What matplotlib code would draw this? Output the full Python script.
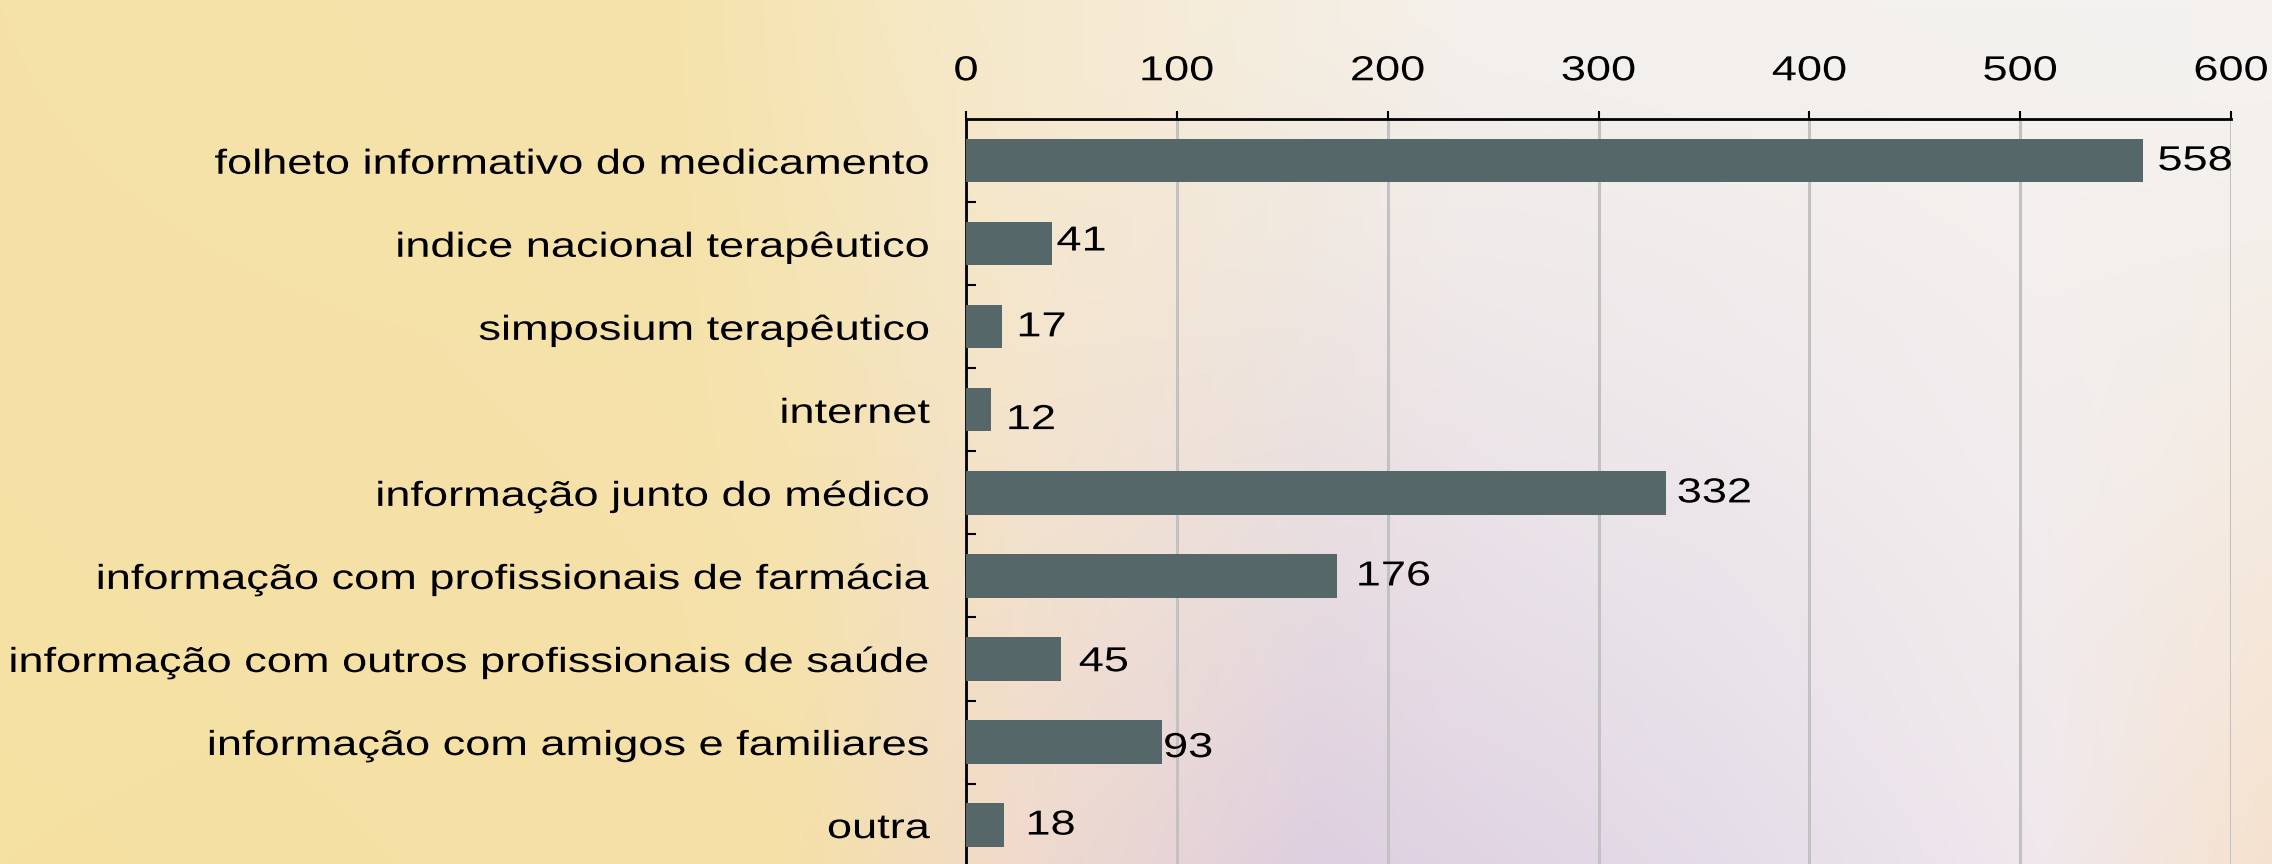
import matplotlib.pyplot as plt
import matplotlib.patheffects as pe
import numpy as np
from matplotlib.transforms import Affine2D

# ─── Data ─────────────────────────────────────────────────────────────────────
categories = [
    "folheto informativo do medicamento",
    "indice nacional terapêutico",
    "simposium terapêutico",
    "internet",
    "informação junto do médico",
    "informação com profissionais de farmácia",
    "informação com outros profissionais de saúde",
    "informação com amigos e familiares",
    "outra",
]
values = [558, 41, 17, 12, 332, 176, 45, 93, 18]
x_ticks = [0, 100, 200, 300, 400, 500, 600]

# label nudges (points) to mimic the original placement
label_dx = [11, 3, 11, 11, 8, 14, 13, 1, 16]
label_dy = [0, 2, 0, -7, 0, 0, -2, -4, 0]

BAR_COLOR = "#56676a"
FONT = "Liberation Sans"
FS = 25
STRETCH = 1.3  # original text is drawn horizontally widened

plt.rcParams["font.family"] = [FONT, "DejaVu Sans"]


# ─── Wide text: stretch glyphs horizontally around an anchor ──────────────────
class Stretch(pe.AbstractPathEffect):
    def __init__(self, sx, anchor):
        super().__init__()
        self.sx = sx
        self.anchor = anchor  # 0 = left, 0.5 = centre, 1 = right

    def draw_path(self, renderer, gc, tpath, affine, rgbFace=None):
        ext = tpath.get_extents()
        x0 = ext.x0 + self.anchor * ext.width
        pre = Affine2D().translate(-x0, 0).scale(self.sx, 1).translate(x0, 0)
        renderer.draw_path(gc, tpath, pre + affine, rgbFace)


fig = plt.figure(figsize=(22.72, 8.64), dpi=100)

# ─── Background gradient ──────────────────────────────────────────────────────
W, H = 400, 160
xs = np.linspace(0, 1, W)
ys = np.linspace(0, 1, H)[:, None]  # 0 = top, 1 = bottom

top_stops = [0.0, 0.3, 0.45, 0.65, 1.0]
top_cols = np.array([[245, 226, 168], [245, 227, 172], [246, 234, 206],
                     [244, 240, 236], [244, 242, 240]])
bot_stops = [0.0, 0.35, 0.45, 0.58, 0.75, 0.9, 1.0]
bot_cols = np.array([[245, 225, 162], [245, 224, 168], [240, 218, 205],
                     [222, 207, 224], [228, 220, 232], [240, 232, 236],
                     [246, 226, 206]])

img = np.zeros((H, W, 3))
for c in range(3):
    top = np.interp(xs, top_stops, top_cols[:, c])
    bot = np.interp(xs, bot_stops, bot_cols[:, c])
    img[:, :, c] = top[None, :] * (1 - ys**1.3) + bot[None, :] * ys**1.3
img = img / 255.0

bg = fig.add_axes([0, 0, 1, 1], zorder=-10)
bg.imshow(img, aspect="auto", extent=[0, 1, 0, 1], interpolation="bilinear")
bg.axis("off")

# ─── Bar chart ────────────────────────────────────────────────────────────────
ax = fig.add_axes([0.4252, -0.003, 0.5568, 0.865])
ax.patch.set_alpha(0)

y = np.arange(len(categories))
ax.barh(y, values, height=0.52, color=BAR_COLOR, zorder=3)

ax.set_xlim(0, 600)
ax.set_ylim(len(categories) - 0.5, -0.5)

ax.xaxis.tick_top()
ax.set_xticks(x_ticks)
ax.set_xticklabels([str(t) for t in x_ticks])
ax.tick_params(axis="x", which="major", direction="out", length=6, width=1.5,
               pad=17, labelsize=FS, colors="black")

ax.set_yticks(y)
ax.set_yticklabels(categories)
ax.set_yticks(np.arange(len(categories)) + 0.5, minor=True)
ax.tick_params(axis="y", which="major", length=0, pad=26, labelsize=FS)
ax.tick_params(axis="y", which="minor", direction="in", length=7, width=1.5)

for lbl in ax.get_xticklabels():
    lbl.set_path_effects([Stretch(STRETCH, 0.5)])
for lbl in ax.get_yticklabels():
    lbl.set_path_effects([Stretch(STRETCH, 1.0)])

ax.grid(axis="x", color="#c2c2c2", linewidth=2.2, zorder=0)
ax.set_axisbelow(True)

for side in ["right", "bottom"]:
    ax.spines[side].set_visible(False)
ax.spines["top"].set_linewidth(2)
ax.spines["left"].set_linewidth(2)

for yi, v, dx, dy in zip(y, values, label_dx, label_dy):
    ax.annotate(str(v), (v, yi), xytext=(dx, dy), textcoords="offset points",
                ha="left", va="center", fontsize=FS, color="black",
                path_effects=[Stretch(STRETCH, 0.0)])

fig.savefig("out.png", dpi=100)
